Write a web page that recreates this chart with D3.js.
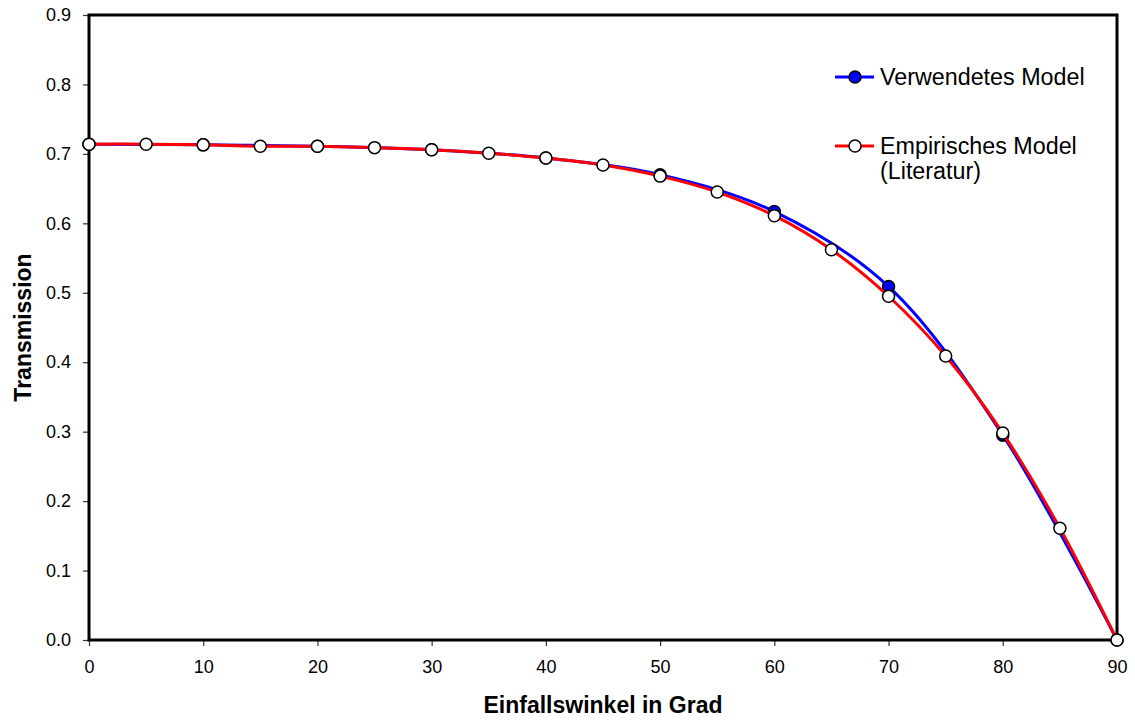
<!DOCTYPE html>
<html>
<head>
<meta charset="utf-8">
<script src="https://cdn.jsdelivr.net/npm/d3@7/dist/d3.min.js"></script>
<style>
  html, body { margin: 0; padding: 0; background: #fff; }
  svg { display: block; font-family: "Liberation Sans", Arial, sans-serif; }
</style>
</head>
<body>
<svg id="chart" width="1135" height="720"></svg>
<script>
// Transmission vs. angle of incidence
const xTicks = [0, 10, 20, 30, 40, 50, 60, 70, 80, 90];
const yTicks = [0, 0.1, 0.2, 0.3, 0.4, 0.5, 0.6, 0.7, 0.8, 0.9];

// Model used (every 10 degrees)
const modelAngles = [0, 10, 20, 30, 40, 50, 60, 70, 80, 90];
const modelValues = [0.714, 0.713, 0.711, 0.706, 0.694, 0.670, 0.617, 0.509, 0.295, 0.0];

// Empirical model from literature (every 5 degrees)
const empAngles = [0, 5, 10, 15, 20, 25, 30, 35, 40, 45, 50, 55, 60, 65, 70, 75, 80, 85, 90];
const empValues = [0.714, 0.714, 0.713, 0.711, 0.711, 0.709, 0.706, 0.701, 0.694, 0.684,
                   0.668, 0.645, 0.611, 0.562, 0.495, 0.409, 0.298, 0.161, 0.0];

const seriesNames = ["Verwendetes Model", "Empirisches Model", "(Literatur)"];
const xTitle = "Einfallswinkel in Grad";
const yTitle = "Transmission";

const svg = d3.select("#chart");
const m = { left: 89, right: 1117, top: 15, bottom: 640 };

const x = d3.scaleLinear().domain([0, 90]).range([m.left, m.right]);
const y = d3.scaleLinear().domain([0, 0.9]).range([m.bottom, m.top]);

// axes
const xAxis = svg.append("g")
  .attr("transform", `translate(0,${m.bottom})`)
  .call(d3.axisBottom(x).tickValues(xTicks).tickSize(6).tickPadding(18).tickFormat(d3.format("d")));
const yAxis = svg.append("g")
  .attr("transform", `translate(${m.left},0)`)
  .call(d3.axisLeft(y).tickValues(yTicks).tickSize(6).tickPadding(12).tickFormat(d3.format(".1f")));

[xAxis, yAxis].forEach(g => {
  g.select(".domain").remove();
  g.selectAll(".tick line").attr("stroke", "#333").attr("stroke-width", 1.2);
  g.selectAll(".tick text").attr("fill", "#000").style("font-size", "18px")
    .style("font-family", "'Liberation Sans', Arial, sans-serif");
});
xAxis.selectAll(".tick text").attr("dy", "0.5em");

// plot frame
svg.append("rect")
  .attr("x", m.left).attr("y", m.top)
  .attr("width", m.right - m.left).attr("height", m.bottom - m.top)
  .attr("fill", "none").attr("stroke", "#000").attr("stroke-width", 3);

const line = d3.line()
  .x(d => x(d[0])).y(d => y(d[1]))
  .curve(d3.curveCatmullRom.alpha(0.5));

const modelData = modelAngles.map((a, i) => [a, modelValues[i]]);
const empData = empAngles.map((a, i) => [a, empValues[i]]);

// model series
svg.append("path").datum(modelData)
  .attr("d", line).attr("fill", "none")
  .attr("stroke", "#0000ff").attr("stroke-width", 3);
svg.append("g").selectAll("circle").data(modelData).join("circle")
  .attr("cx", d => x(d[0])).attr("cy", d => y(d[1])).attr("r", 6)
  .attr("fill", "#0000ff").attr("stroke", "#000").attr("stroke-width", 1.5);

// empirical series
svg.append("path").datum(empData)
  .attr("d", line).attr("fill", "none")
  .attr("stroke", "#ff0000").attr("stroke-width", 3);
svg.append("g").selectAll("circle").data(empData).join("circle")
  .attr("cx", d => x(d[0])).attr("cy", d => y(d[1])).attr("r", 6)
  .attr("fill", "#fff").attr("stroke", "#000").attr("stroke-width", 1.5);

// legend
const legend = svg.append("g");
const items = [
  { color: "#0000ff", fill: "#0000ff", y: 77, lines: [seriesNames[0]] },
  { color: "#ff0000", fill: "#fff", y: 146, lines: [seriesNames[1], seriesNames[2]] }
];
items.forEach(it => {
  legend.append("line")
    .attr("x1", 835).attr("x2", 874).attr("y1", it.y).attr("y2", it.y)
    .attr("stroke", it.color).attr("stroke-width", 3);
  legend.append("circle")
    .attr("cx", 855).attr("cy", it.y).attr("r", 6)
    .attr("fill", it.fill).attr("stroke", "#000").attr("stroke-width", 1.5);
  it.lines.forEach((t, i) => {
    legend.append("text")
      .attr("x", 880).attr("y", it.y + 8 + i * 25)
      .style("font-size", "23.3px").attr("fill", "#000").text(t);
  });
});

// axis titles
svg.append("text")
  .attr("x", (m.left + m.right) / 2).attr("y", 713)
  .attr("text-anchor", "middle")
  .style("font-size", "23px").style("font-weight", "bold").text(xTitle);
svg.append("text")
  .attr("transform", `translate(31,${(m.top + m.bottom) / 2}) rotate(-90)`)
  .attr("text-anchor", "middle")
  .style("font-size", "23px").style("font-weight", "bold").text(yTitle);
</script>
</body>
</html>
